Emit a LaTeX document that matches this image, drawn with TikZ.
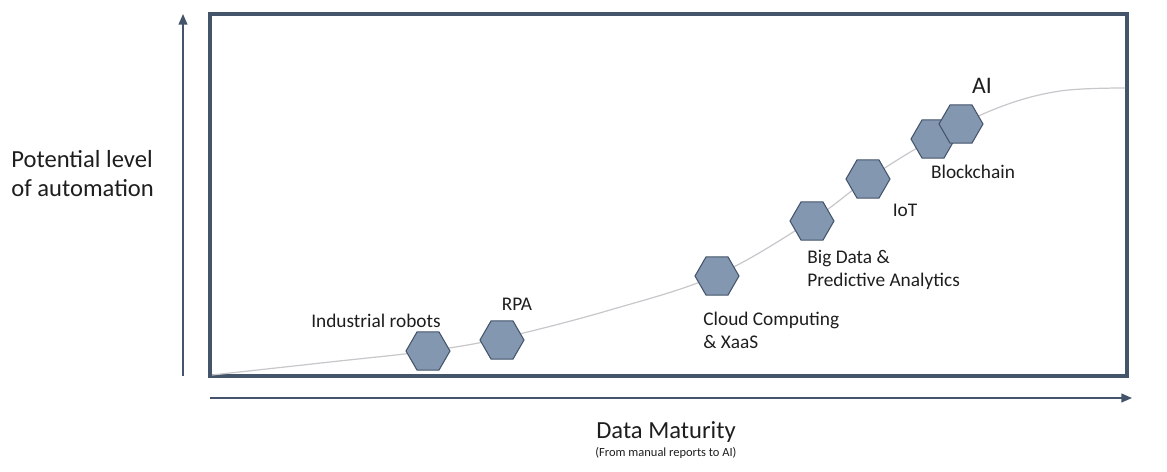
\documentclass[tikz,border=0pt]{standalone}
\usepackage{fontspec}
\setmainfont{Carlito}
\usetikzlibrary{shapes.geometric,arrows.meta}

\definecolor{slate}{HTML}{44546A}
\definecolor{hexfill}{HTML}{8497B0}
\definecolor{curvegray}{HTML}{C8C8CC}
\definecolor{txt}{HTML}{1E1E1E}

\tikzset{
  hexa/.style={regular polygon, regular polygon sides=6,
    minimum size=0.88cm, inner sep=0pt, fill=hexfill, draw=slate, line width=0.6pt},
  lbl/.style={text=txt, font=\fontsize{11}{13}\selectfont, align=left, inner sep=0pt},
  axis/.style={draw=slate, line width=0.8pt, -{Triangle[length=6pt,width=5pt]}}
}

\begin{document}
\begin{tikzpicture}[x=0.02cm,y=-0.02cm]

\useasboundingbox (0,0) rectangle (1167,471);

% axes
\coordinate (y0) at (183,376);
\coordinate (y1) at (183,14);
\coordinate (x0) at (210,398);
\coordinate (x1) at (1132,398);
\draw[axis] (y0) -- (y1);
\draw[axis] (x0) -- (x1);

% frame
\draw[slate, line width=2.3pt] (210,14) rectangle (1127,376);

% curve
\draw[curvegray, line width=0.7pt] plot[smooth, tension=0.6] coordinates
  {(212,375) (330,362) (428,351) (502,338) (610,310) (717,275) (812,220)
   (868,179) (933,139) (1000,107) (1060,91) (1125,88)};

% technologies
\node[hexa] (robots) at (428,351) {};
\node[hexa] (rpa) at (502,340) {};
\node[hexa] (cloud) at (717,276) {};
\node[hexa] (bigdata) at (812,221) {};
\node[hexa] (iot) at (868,179) {};
\node[hexa] (chain) at (933,139) {};
\node[hexa] (ai) at (961,124) {};

\node[lbl] (robotslbl) at (376,321) {Industrial robots};
\node[lbl] (rpalbl) at (517,304) {RPA};
\node[lbl, anchor=west] (cloudlbl) at (703,330) {Cloud Computing\\\& XaaS};
\node[lbl, anchor=west] (bigdatalbl) at (807,270) {Big Data \&\\Predictive Analytics};
\node[lbl] (iotlbl) at (905,210) {IoT};
\node[lbl] (chainlbl) at (973,172) {Blockchain};
\node[lbl, font=\fontsize{13.5}{15}\selectfont] (ailbl) at (982,86) {AI};

% axis titles
\node[lbl, anchor=west, font=\fontsize{14}{16.5}\selectfont] (ytitle) at (11,174)
  {Potential level\\of automation};
\node[lbl, font=\fontsize{14}{16}\selectfont] (xtitle) at (666,432) {Data Maturity};
\node[lbl, font=\fontsize{7.1}{8}\selectfont] (xsub) at (666,453) {(From manual reports to AI)};

\end{tikzpicture}
\end{document}
